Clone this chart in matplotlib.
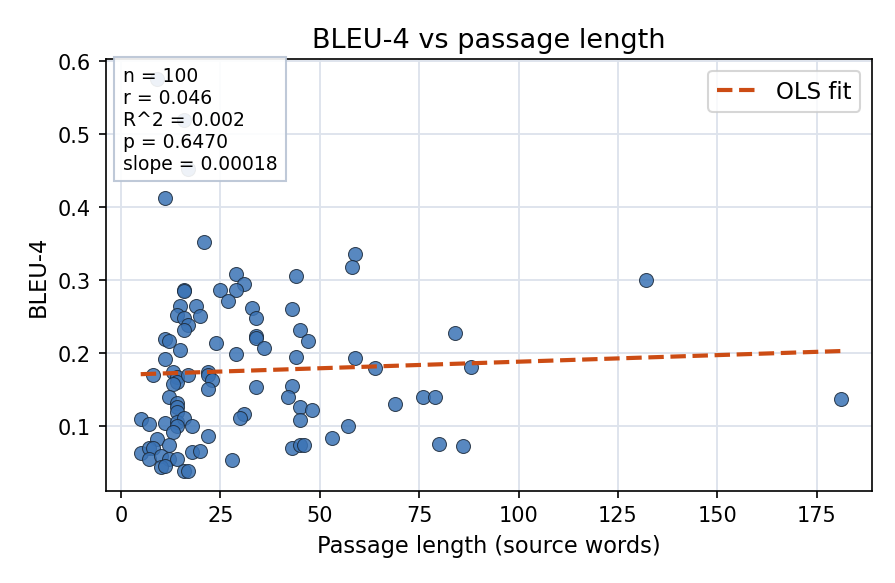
import numpy as np
import matplotlib
matplotlib.use("Agg")
import matplotlib.pyplot as plt

# passage length (source words) and BLEU-4
passage_len = [9, 16, 17, 11, 21, 29, 31, 16, 16, 25,
               29, 27, 15, 19, 14, 20, 16, 17, 16, 33,
               34, 34, 34, 36, 43, 44, 45, 11, 12, 15,
               24, 11, 29, 44, 8, 13, 14, 14, 13, 17,
               22, 22, 23, 22, 34, 43, 42, 12, 14, 14,
               14, 45, 45, 31, 30, 5, 7, 11, 14, 16,
               18, 14, 13, 22, 9, 12, 5, 7, 8, 7,
               10, 12, 14, 10, 11, 18, 20, 16, 17, 28,
               43, 45, 59, 58, 47, 59, 64, 84, 88, 48,
               69, 76, 79, 57, 53, 46, 80, 86, 132, 181]
bleu4 = [0.575, 0.519, 0.452, 0.412, 0.352, 0.308, 0.294, 0.286, 0.285, 0.286,
         0.286, 0.271, 0.264, 0.264, 0.251, 0.250, 0.247, 0.238, 0.231, 0.261,
         0.247, 0.223, 0.220, 0.206, 0.260, 0.305, 0.231, 0.219, 0.216, 0.204,
         0.213, 0.191, 0.198, 0.194, 0.170, 0.174, 0.167, 0.160, 0.157, 0.170,
         0.174, 0.170, 0.163, 0.150, 0.153, 0.154, 0.140, 0.140, 0.131, 0.126,
         0.119, 0.126, 0.108, 0.116, 0.110, 0.109, 0.102, 0.104, 0.105, 0.110,
         0.100, 0.099, 0.092, 0.086, 0.082, 0.073, 0.063, 0.069, 0.070, 0.054,
         0.058, 0.054, 0.054, 0.043, 0.045, 0.064, 0.065, 0.038, 0.038, 0.053,
         0.069, 0.073, 0.335, 0.317, 0.216, 0.193, 0.179, 0.227, 0.181, 0.122,
         0.130, 0.140, 0.140, 0.100, 0.083, 0.074, 0.075, 0.072, 0.299, 0.136]

# reported regression stats
n_obs = 100
r_val = 0.046
p_val = 0.6470
ols_slope = 0.00018

x = np.array(passage_len, dtype=float)
y = np.array(bleu4)
# OLS line: reported slope through the data centroid
intercept = y.mean() - ols_slope * x.mean()
xs = np.linspace(x.min(), x.max(), 100)

stats_text = (f"n = {n_obs}\nr = {r_val:.3f}\nR^2 = {r_val ** 2:.3f}\n"
              f"p = {p_val:.4f}\nslope = {ols_slope:.5f}")

fig, ax = plt.subplots(figsize=(5.973, 3.893), dpi=150)
fig.subplots_adjust(left=0.118, right=0.973, top=0.897, bottom=0.158)

ax.grid(True, color="#dde3ec", linewidth=0.9)
ax.set_axisbelow(True)

ax.scatter(x, y, s=45, color="#3b73b5", alpha=0.85,
           edgecolor="#1c2a3a", linewidth=0.5, zorder=3)
ax.plot(xs, intercept + ols_slope * xs, "--", color="#cc4c14", linewidth=2.0,
        label="OLS fit", zorder=4)

ax.text(0.022, 0.985, stats_text, transform=ax.transAxes,
        fontsize=9, va="top", ha="left", zorder=5,
        bbox=dict(boxstyle="square,pad=0.45", facecolor="white",
                  edgecolor="#b8c4d4", alpha=0.9))

ax.set_xlim(-3.8, 188.8)
ax.set_ylim(0.011, 0.602)
ax.set_title("BLEU-4 vs passage length", fontsize=13)
ax.set_xlabel("Passage length (source words)", fontsize=10.8)
ax.set_ylabel("BLEU-4", fontsize=10.8)
ax.legend(loc="upper right", fontsize=11, handlelength=1.75)

fig.savefig("out.png", dpi=150)
